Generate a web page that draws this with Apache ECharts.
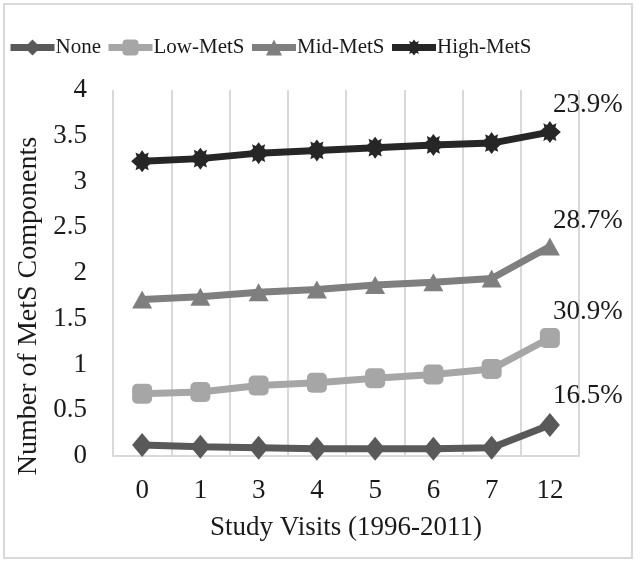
<!DOCTYPE html>
<html>
<head>
<meta charset="utf-8">
<script src="https://cdn.jsdelivr.net/npm/echarts@6/dist/echarts.min.js"></script>
<style>
html,body{margin:0;padding:0;background:#fff;}
#chart{width:642px;height:565px;}
</style>
</head>
<body>
<div id="chart"></div>
<script>
var categories = ['0', '1', '3', '4', '5', '6', '7', '12'];
var seriesNames = ['None', 'Low-MetS', 'Mid-MetS', 'High-MetS'];
var noneValues = [0.12, 0.10, 0.09, 0.08, 0.08, 0.08, 0.09, 0.34];
var lowValues = [0.68, 0.70, 0.77, 0.80, 0.85, 0.89, 0.95, 1.29];
var midValues = [1.71, 1.74, 1.79, 1.82, 1.87, 1.90, 1.94, 2.29];
var highValues = [3.22, 3.25, 3.31, 3.34, 3.37, 3.40, 3.42, 3.54];
var endLabels = ['16.5%', '30.9%', '28.7%', '23.9%'];
var yTicks = [0, 0.5, 1, 1.5, 2, 2.5, 3, 3.5, 4];

var FONT = 'Liberation Serif';
var colors = ['#595959', '#a6a6a6', '#7f7f7f', '#262626'];
var highStar = 'path://M0,-10 L2.6,-6.5 L6,-8 L5,-4.5 L10,0 L5,4.5 L6,8 L2.6,6.5 L0,10 L-2.6,6.5 L-6,8 L-5,4.5 L-10,0 L-5,-4.5 L-6,-8 L-2.6,-6.5 Z';
var symbols = ['diamond', 'roundRect', 'triangle', highStar];
var symbolSizes = [[20, 24], 20, [20, 18], 22];
var allValues = [noneValues, lowValues, midValues, highValues];

function buildData(vals, label) {
  return vals.map(function (v, i) {
    if (i === vals.length - 1) {
      return {
        value: v,
        label: {
          show: true,
          formatter: label,
          position: 'top',
          distance: 3,
          offset: [38, 0],
          fontFamily: FONT,
          fontSize: 27,
          color: '#1a1a1a'
        }
      };
    }
    return v;
  });
}

var series = seriesNames.map(function (name, k) {
  return {
    name: name,
    type: 'line',
    data: buildData(allValues[k], endLabels[k]),
    symbol: symbols[k],
    symbolSize: symbolSizes[k],
    itemStyle: { color: colors[k] },
    lineStyle: { color: colors[k], width: 7 },
    z: 2 + k,
    animation: false
  };
});

var chart = echarts.init(document.getElementById('chart'), null, { renderer: 'canvas' });
chart.setOption({
  backgroundColor: '#ffffff',
  animation: false,
  graphic: [{
    type: 'rect',
    shape: { x: 4, y: 4, width: 628, height: 554 },
    style: { fill: 'none', stroke: '#d9d9d9', lineWidth: 2 },
    silent: true
  }],
  legend: {
    left: 2,
    top: 32,
    itemWidth: 44,
    itemHeight: 20,
    itemGap: 4,
    lineStyle: { width: 7 },
    textStyle: { fontFamily: FONT, fontSize: 21, color: '#1a1a1a', padding: [0, 0, 0, -4] },
    data: seriesNames
  },
  grid: { left: 113, right: 63, top: 90, bottom: 109, containLabel: false },
  xAxis: {
    type: 'category',
    data: categories,
    boundaryGap: true,
    name: 'Study Visits (1996-2011)',
    nameLocation: 'middle',
    nameGap: 58,
    nameTextStyle: { fontFamily: FONT, fontSize: 27, color: '#1a1a1a' },
    axisLine: { show: true, lineStyle: { color: '#d9d9d9', width: 2 } },
    axisTick: { show: false },
    axisLabel: { fontFamily: FONT, fontSize: 27, color: '#1a1a1a', margin: 21 },
    splitLine: { show: true, lineStyle: { color: '#d9d9d9', width: 2 } }
  },
  yAxis: {
    type: 'value',
    min: 0,
    max: 4,
    interval: 0.5,
    name: 'Number of MetS Components',
    nameLocation: 'middle',
    nameGap: 62,
    nameTextStyle: { fontFamily: FONT, fontSize: 28, color: '#1a1a1a', padding: [0, 66, 0, 0] },
    axisLine: { show: false },
    axisTick: { show: false },
    axisLabel: {
      fontFamily: FONT, fontSize: 27, color: '#1a1a1a', margin: 26,
      formatter: function (v) { return String(v); }
    },
    splitLine: { show: false }
  },
  series: series
});
</script>
</body>
</html>
